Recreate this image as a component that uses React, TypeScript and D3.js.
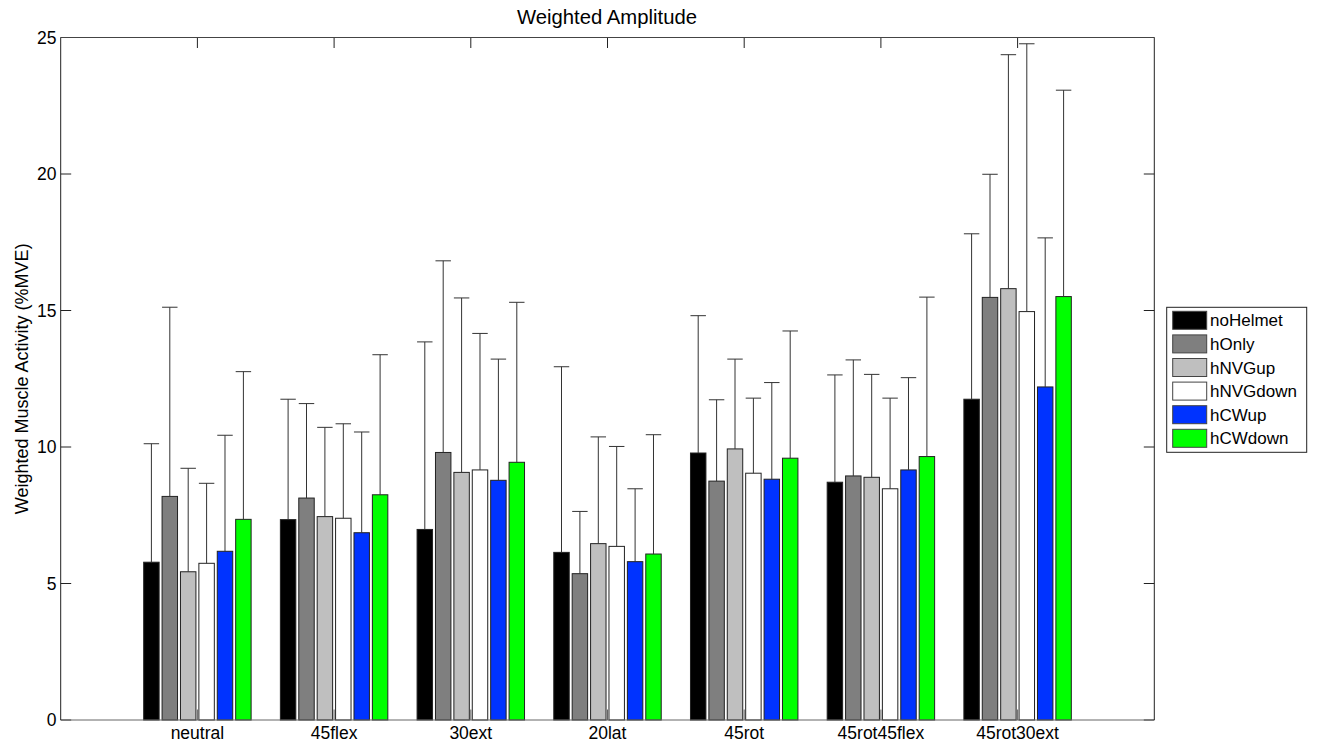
import React from "react";
import * as d3 from "d3";

const categories = ["neutral", "45flex", "30ext", "20lat", "45rot", "45rot45flex", "45rot30ext"];
const seriesNames = ["noHelmet", "hOnly", "hNVGup", "hNVGdown", "hCWup", "hCWdown"];
const seriesColors = ["#000000", "#7f7f7f", "#bfbfbf", "#ffffff", "#0033ff", "#00ff00"];

// mean values per series (rows) across categories (columns)
const noHelmet = [5.78, 7.34, 6.98, 6.14, 9.78, 8.71, 11.75];
const hOnly = [8.19, 8.13, 9.80, 5.36, 8.75, 8.94, 15.48];
const hNVGup = [5.43, 7.45, 9.07, 6.46, 9.93, 8.89, 15.80];
const hNVGdown = [5.74, 7.39, 9.16, 6.36, 9.04, 8.47, 14.96];
const hCWup = [6.18, 6.86, 8.78, 5.80, 8.82, 9.16, 12.20];
const hCWdown = [7.35, 8.25, 9.44, 6.08, 9.59, 9.65, 15.51];

// upper error bar ends
const noHelmetErr = [10.12, 11.75, 13.85, 12.94, 14.81, 12.64, 17.81];
const hOnlyErr = [15.12, 11.59, 16.82, 7.64, 11.73, 13.19, 19.99];
const hNVGupErr = [9.22, 10.72, 15.46, 10.37, 13.22, 12.66, 24.37];
const hNVGdownErr = [8.67, 10.85, 14.16, 10.02, 11.79, 11.79, 24.77];
const hCWupErr = [10.43, 10.55, 13.22, 8.47, 12.36, 12.54, 17.66];
const hCWdownErr = [12.76, 13.38, 15.30, 10.45, 14.25, 15.49, 23.07];

const yTicks = [0, 5, 10, 15, 20, 25];

const values = [noHelmet, hOnly, hNVGup, hNVGdown, hCWup, hCWdown];
const errors = [noHelmetErr, hOnlyErr, hNVGupErr, hNVGdownErr, hCWupErr, hCWdownErr];

const W = 1317;
const H = 747;
const left = 60.7;
const right = 1154.3;
const top = 37.5;
const bottom = 720;
const font = "'Liberation Sans', Arial, Helvetica, sans-serif";

export default function App() {
  const x = d3.scaleLinear().domain([0, 8]).range([left, right]);
  const y = d3.scaleLinear().domain([0, 25]).range([bottom, top]);
  const step = 0.1346;
  const bw = 0.113;
  const capHalf = (x(bw) - x(0)) / 2;
  const tickLen = 10.5;

  const legX = 1166.7;
  const legY = 307.3;
  const legW = 140;
  const legH = 145;
  const rowH = 23.6;

  return (
    <svg width={W} height={H} style={{ position: "absolute", left: 0, top: 0, background: "#fff" }} fontFamily={font}>
      <rect x={0} y={0} width={W} height={H} fill="#fff" />
      {/* x ticks */}
      {categories.map((c, i) => (
        <g key={"xt" + c}>
          <line x1={x(i + 1)} x2={x(i + 1)} y1={bottom} y2={bottom - tickLen} stroke="#666" strokeWidth={1} />
          <line x1={x(i + 1)} x2={x(i + 1)} y1={top} y2={top + tickLen} stroke="#222" strokeWidth={1} />
          <text x={x(i + 1)} y={739} textAnchor="middle" fontSize={17.5} fill="#000">{c}</text>
        </g>
      ))}
      {/* y ticks */}
      {yTicks.map((t) => (
        <g key={"yt" + t}>
          <line x1={left} x2={left + tickLen} y1={y(t)} y2={y(t)} stroke="#222" strokeWidth={1} />
          <line x1={right} x2={right - tickLen} y1={y(t)} y2={y(t)} stroke="#222" strokeWidth={1} />
          <text x={56.5} y={y(t)} dy="0.36em" textAnchor="end" fontSize={17.5} fill="#000">{t}</text>
        </g>
      ))}
      {/* bars */}
      {values.map((vals, j) =>
        vals.map((v, i) => {
          const cx = i + 1 + (j - 2.5) * step;
          const x0 = x(cx - bw / 2);
          const x1 = x(cx + bw / 2);
          return (
            <rect key={`b${j}-${i}`} x={x0} y={y(v)} width={x1 - x0} height={y(0) - y(v)}
              fill={seriesColors[j]} stroke="#222" strokeWidth={1} />
          );
        })
      )}
      {/* error bars */}
      {errors.map((errs, j) =>
        errs.map((e, i) => {
          const cx = x(i + 1 + (j - 2.5) * step);
          return (
            <g key={`e${j}-${i}`}>
              <line x1={cx} x2={cx} y1={y(values[j][i])} y2={y(e)} stroke="#333" strokeWidth={1} />
              <line x1={cx - capHalf} x2={cx + capHalf} y1={y(e)} y2={y(e)} stroke="#333" strokeWidth={1} />
            </g>
          );
        })
      )}
      {/* axes box */}
      <line x1={left} x2={right} y1={bottom} y2={bottom} stroke="#666" strokeWidth={1} />
      <line x1={left} x2={right} y1={top} y2={top} stroke="#444" strokeWidth={1} />
      <line x1={left} x2={left} y1={top} y2={bottom} stroke="#222" strokeWidth={1} />
      <line x1={right} x2={right} y1={top} y2={bottom} stroke="#222" strokeWidth={1} />
      {/* title and labels */}
      <text x={607} y={24} textAnchor="middle" fontSize={20.3} fill="#000">Weighted Amplitude</text>
      <text transform={`translate(28,${(top + bottom) / 2}) rotate(-90)`} textAnchor="middle" fontSize={18} fill="#000">
        Weighted Muscle Activity (%MVE)
      </text>
      {/* legend */}
      <rect x={legX} y={legY} width={legW} height={legH} fill="#fff" stroke="#222" strokeWidth={1} />
      {seriesNames.map((n, j) => (
        <g key={"lg" + n}>
          <rect x={1172.7} y={311.3 + j * rowH} width={34} height={18} fill={seriesColors[j]} stroke="#444" strokeWidth={1} />
          <text x={1210} y={311.3 + j * rowH + 15} fontSize={17} fill="#000">{n}</text>
        </g>
      ))}
    </svg>
  );
}
